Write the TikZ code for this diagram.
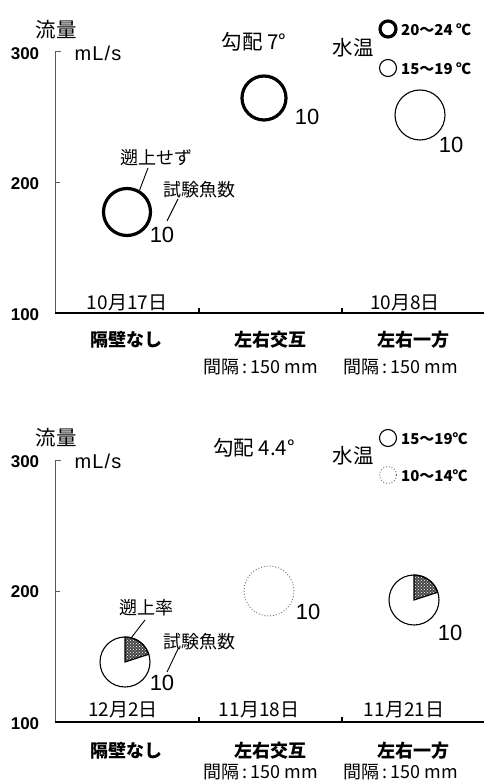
\documentclass[tikz,border=0pt]{standalone}
\usepackage{fontspec}
\setmainfont{Liberation Sans}
\newfontfamily\jp{Noto Sans CJK JP}
\usetikzlibrary{patterns}
\begin{document}
\begin{tikzpicture}[x=1pt,y=-1pt,
  jplab/.style={font=\jp\fontsize{18}{18}\selectfont, inner sep=0pt},
  jpbig/.style={font=\jp\fontsize{20.5}{20.5}\selectfont, inner sep=0pt},
  jpdate/.style={font=\jp\fontsize{19}{19}\selectfont, inner sep=0pt},
  jpbold/.style={font=\jp\bfseries\fontsize{18}{18}\selectfont, inner sep=0pt},
  ynum/.style={font=\bfseries\fontsize{17}{17}\selectfont, inner sep=0pt},
  nlab/.style={font=\fontsize{22}{22}\selectfont, inner sep=0pt},
  unitlab/.style={font=\addfontfeatures{LetterSpace=6}\fontsize{20}{20}\selectfont, inner sep=0pt},
  leg/.style={font=\jp\bfseries\fontsize{15}{15}\selectfont, inner sep=0pt, anchor=west},
  yaxis/.style={draw=black!65, line width=1pt},
  xaxis/.style={draw=black, line width=1.1pt},
  thickc/.style={draw=black, line width=3.2pt},
  thinc/.style={draw=black, line width=1.1pt},
  dotc/.style={draw=black!60, line width=0.9pt, dotted},
  leader/.style={draw=black, line width=0.9pt},
  wedge/.style={fill=black!72},
  wedgepat/.style={pattern=crosshatch dots, pattern color=white}
]
\useasboundingbox (0,0) rectangle (484,783);

% ================= TOP PANEL =================
\node[jpbig] (t-flow) at (56,30) {流量};
\node[ynum] (t-y300) at (25,54) {300};
\node[ynum] (t-y200) at (25,184) {200};
\node[ynum] (t-y100) at (25,315) {100};
\coordinate (t-o) at (55,313);
\coordinate (t-top) at (55,52);
\coordinate (t-end) at (484,313);
\draw[yaxis] (t-top) -- (t-o);
\draw[yaxis] (t-top) -- ++(6,0);
\draw[yaxis] (55,183) -- ++(5,0);
\draw[xaxis] (t-o) -- (t-end);
\draw[xaxis] (199,313) -- ++(0,-5);
\draw[xaxis] (342,313) -- ++(0,-5);
\node[unitlab] (t-unit) at (98,53) {mL/s};
\node[jpbig] (t-grad) at (254,42) {勾配 7°};
\node[jpbig] (t-temp) at (353,48) {水温};
\node[circle, thickc, minimum size=16pt, inner sep=0pt] (t-leg1) at (388,29) {};
\node[circle, thinc, minimum size=17pt, inner sep=0pt] (t-leg2) at (388,68) {};
\node[leg] (t-leg1t) at (401,30) {20～24 ℃};
\node[leg] (t-leg2t) at (401,69) {15～19 ℃};

\node[circle, thickc, minimum size=47pt, inner sep=0pt] (t-c1) at (127,212) {};
\node[circle, thickc, minimum size=44pt, inner sep=0pt] (t-c2) at (264,98) {};
\node[circle, thinc, minimum size=50pt, inner sep=0pt] (t-c3) at (420,115) {};
\node[nlab] (t-n1) at (162,235) {10};
\node[nlab] (t-n2) at (307,117) {10};
\node[nlab] (t-n3) at (451,145) {10};
\node[jplab] (t-note1) at (156,158) {遡上せず};
\node[jplab] (t-note2) at (199,190) {試験魚数};
\coordinate (t-l1a) at (148,168);
\coordinate (t-l2a) at (178,199);
\draw[leader] (t-l1a) -- (t-c1.60);
\draw[leader] (t-l2a) -- (167,221);
\node[jpdate] (t-d1) at (127,303) {10月17日};
\node[jpdate] (t-d3) at (405,303) {10月8日};
\node[jpbold] (t-k1) at (126,340) {隔壁なし};
\node[jpbold] (t-k2) at (270,340) {左右交互};
\node[jpbold] (t-k3) at (413,340) {左右一方};
\node[jplab] (t-s2) at (261,367) {間隔\,:\,150 mm};
\node[jplab] (t-s3) at (401,367) {間隔\,:\,150 mm};

% ================= BOTTOM PANEL =================
\node[jpbig] (b-flow) at (56,438) {流量};
\node[ynum] (b-y300) at (25,462) {300};
\node[ynum] (b-y200) at (25,592) {200};
\node[ynum] (b-y100) at (25,724) {100};
\coordinate (b-o) at (55,722);
\coordinate (b-top) at (55,460);
\coordinate (b-end) at (484,722);
\draw[yaxis] (b-top) -- (b-o);
\draw[yaxis] (b-top) -- ++(6,0);
\draw[yaxis] (55,591) -- ++(5,0);
\draw[xaxis] (b-o) -- (b-end);
\draw[xaxis] (199,722) -- ++(0,-5);
\draw[xaxis] (342,722) -- ++(0,-5);
\node[unitlab] (b-unit) at (98,461) {mL/s};
\node[jpbig] (b-grad) at (254,448) {勾配 4.4°};
\node[jpbig] (b-temp) at (353,456) {水温};
\node[circle, thinc, minimum size=17pt, inner sep=0pt] (b-leg1) at (388,438) {};
\node[circle, dotc, minimum size=17pt, inner sep=0pt] (b-leg2) at (388,475) {};
\node[leg] (b-leg1t) at (401,439) {15～19℃};
\node[leg] (b-leg2t) at (401,476) {10～14℃};

% left pie
\coordinate (b-p1) at (125,662);
\fill[wedge] (b-p1) -- ++(-90:25) arc[start angle=-90, end angle=-18, radius=25] -- cycle;
\fill[wedgepat] (b-p1) -- ++(-90:25) arc[start angle=-90, end angle=-18, radius=25] -- cycle;
\draw[thinc] (b-p1) -- ++(-90:25) arc[start angle=-90, end angle=-18, radius=25] -- cycle;
\node[circle, thinc, minimum size=50pt, inner sep=0pt] (b-c1) at (b-p1) {};
% middle dotted
\node[circle, dotc, minimum size=50pt, inner sep=0pt] (b-c2) at (269,591) {};
% right pie
\coordinate (b-p3) at (414,600);
\fill[wedge] (b-p3) -- ++(-90:25) arc[start angle=-90, end angle=-18, radius=25] -- cycle;
\fill[wedgepat] (b-p3) -- ++(-90:25) arc[start angle=-90, end angle=-18, radius=25] -- cycle;
\draw[thinc] (b-p3) -- ++(-90:25) arc[start angle=-90, end angle=-18, radius=25] -- cycle;
\node[circle, thinc, minimum size=50pt, inner sep=0pt] (b-c3) at (b-p3) {};

\node[nlab] (b-n1) at (162,683) {10};
\node[nlab] (b-n2) at (308,612) {10};
\node[nlab] (b-n3) at (450,633) {10};
\node[jplab] (b-note1) at (146,608) {遡上率};
\node[jplab] (b-note2) at (199,642) {試験魚数};
\coordinate (b-l1a) at (145,620);
\coordinate (b-l2a) at (178,649);
\draw[leader] (b-l1a) -- (b-c1.75);
\draw[leader] (b-l2a) -- (167,672);
\node[jpdate] (b-d1) at (123,710) {12月2日};
\node[jpdate] (b-d2) at (259,710) {11月18日};
\node[jpdate] (b-d3) at (404,710) {11月21日};
\node[jpbold] (b-k1) at (126,751) {隔壁なし};
\node[jpbold] (b-k2) at (270,751) {左右交互};
\node[jpbold] (b-k3) at (413,751) {左右一方};
\node[jplab] (b-s2) at (261,772) {間隔\,:\,150 mm};
\node[jplab] (b-s3) at (401,772) {間隔\,:\,150 mm};
\end{tikzpicture}
\end{document}
